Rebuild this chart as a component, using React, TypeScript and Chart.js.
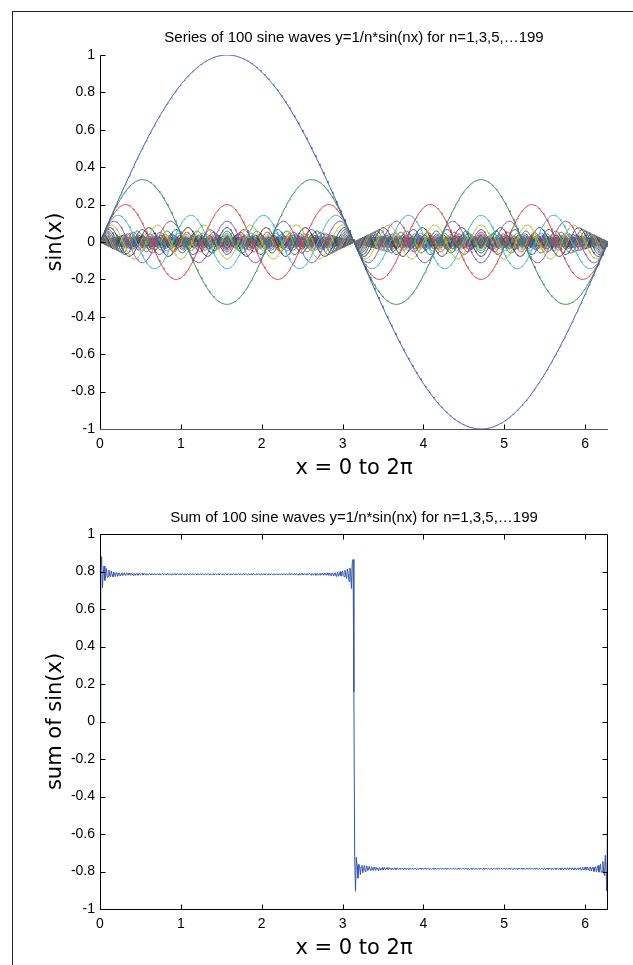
import React, { useEffect, useRef } from "react";
import { Chart, registerables } from "chart.js";

Chart.register(...registerables);

// Odd harmonics n = 1, 3, 5, ... 199 (as stated in the chart titles)
const HARMONICS = [
  1, 3, 5, 7, 9, 11, 13, 15, 17, 19, 21, 23, 25, 27, 29, 31, 33, 35, 37, 39,
  41, 43, 45, 47, 49, 51, 53, 55, 57, 59, 61, 63, 65, 67, 69, 71, 73, 75, 77, 79,
  81, 83, 85, 87, 89, 91, 93, 95, 97, 99, 101, 103, 105, 107, 109, 111, 113, 115, 117, 119,
  121, 123, 125, 127, 129, 131, 133, 135, 137, 139, 141, 143, 145, 147, 149, 151, 153, 155, 157, 159,
  161, 163, 165, 167, 169, 171, 173, 175, 177, 179, 181, 183, 185, 187, 189, 191, 193, 195, 197, 199,
];
// x sampling of the plotted curves: 0 to 2π in steps of 0.01
const X_STEP = 0.01;
const X_MAX = 2 * Math.PI;
const X_TICKS = [0, 1, 2, 3, 4, 5, 6];
const Y_TICKS = [-1, -0.8, -0.6, -0.4, -0.2, 0, 0.2, 0.4, 0.6, 0.8, 1];
const SERIES_COLORS = ["#3355b0", "#2e8b4e", "#e03a3a", "#2fb6c6", "#9150b4", "#baba30", "#404040"];
const SUM_COLOR = "#3355b0";
const TOP_TITLE = "Series of 100 sine waves y=1/n*sin(nx) for n=1,3,5,…199";
const BOTTOM_TITLE = "Sum of 100 sine waves y=1/n*sin(nx) for n=1,3,5,…199";
const X_LABEL = "x = 0 to 2π";
const TOP_Y_LABEL = "sin(x)";
const BOTTOM_Y_LABEL = "sum of sin(x)";

const SANS = "'Liberation Sans', Arial, Helvetica, sans-serif";
const LABEL_FONT = "'DejaVu Sans', 'Liberation Sans', sans-serif";

function buildSamples(): number[] {
  const xs: number[] = [];
  for (let i = 0; i * X_STEP <= X_MAX + 1e-9; i++) xs.push(Math.round(i * X_STEP * 100) / 100);
  return xs;
}

function axesPlugin(boxed: boolean, xAxisColor: string) {
  return {
    id: "matlabAxes",
    afterDatasetsDraw(chart: any) {
      const { ctx, chartArea: a, scales } = chart;
      const xs = scales.x;
      const ys = scales.y;
      const L = 5;
      const left = Math.round(a.left) + 0.5;
      const right = Math.round(a.right) - 0.5;
      const top = Math.round(a.top) + 0.5;
      const bottom = Math.round(a.bottom) + 0.5;
      ctx.save();
      ctx.lineWidth = 1;
      ctx.strokeStyle = "#000";
      ctx.beginPath();
      for (const t of xs.ticks) {
        const p = Math.round(xs.getPixelForValue(t.value)) + 0.5;
        ctx.moveTo(p, bottom);
        ctx.lineTo(p, bottom - L);
        if (boxed) {
          ctx.moveTo(p, top);
          ctx.lineTo(p, top + L);
        }
      }
      for (const t of ys.ticks) {
        const p = Math.round(ys.getPixelForValue(t.value)) + 0.5;
        ctx.moveTo(left, p);
        ctx.lineTo(left + L, p);
        if (boxed) {
          ctx.moveTo(right, p);
          ctx.lineTo(right - L, p);
        }
      }
      ctx.stroke();
      // y axis line (and box when boxed)
      ctx.beginPath();
      ctx.moveTo(left, top);
      ctx.lineTo(left, bottom);
      if (boxed) {
        ctx.moveTo(left, top);
        ctx.lineTo(right, top);
        ctx.lineTo(right, bottom);
      }
      ctx.stroke();
      // x axis line
      ctx.beginPath();
      ctx.strokeStyle = xAxisColor;
      ctx.moveTo(left - 0.5, bottom);
      ctx.lineTo(right + 0.5, bottom);
      ctx.stroke();
      ctx.restore();
    },
  };
}

function makeOptions(o: {
  title: string;
  titleTop: number;
  titleBottom: number;
  yLabel: string;
  xAxisHeight: number;
  xTitleBottom: number;
}) {
  return {
    responsive: false,
    animation: false,
    events: [],
    layout: { padding: { left: 0, right: 25, top: 0, bottom: 0 } },
    plugins: {
      legend: { display: false },
      tooltip: { enabled: false },
      title: {
        display: true,
        fullSize: false,
        text: o.title,
        color: "#000",
        font: { family: SANS, size: 15, weight: "normal" },
        padding: { top: o.titleTop, bottom: o.titleBottom },
      },
    },
    elements: {
      line: { borderWidth: 1, tension: 0, borderJoinStyle: "round" },
      point: { radius: 0 },
    },
    scales: {
      x: {
        type: "linear",
        min: 0,
        max: X_MAX,
        afterBuildTicks: (s: any) => {
          s.ticks = X_TICKS.map((v) => ({ value: v }));
        },
        afterFit: (s: any) => {
          s.height = o.xAxisHeight;
        },
        ticks: {
          color: "#000",
          font: { family: SANS, size: 14 },
          padding: 7,
          maxRotation: 0,
          autoSkip: false,
          callback: (v: any) => String(v),
        },
        grid: { display: false, drawTicks: false },
        border: { display: false },
        title: {
          display: true,
          text: X_LABEL,
          color: "#000",
          font: { family: LABEL_FONT, size: 21 },
          padding: { top: 0, bottom: o.xTitleBottom },
        },
      },
      y: {
        type: "linear",
        min: -1,
        max: 1,
        afterBuildTicks: (s: any) => {
          s.ticks = Y_TICKS.map((v) => ({ value: v }));
        },
        afterFit: (s: any) => {
          s.width = 100;
        },
        ticks: {
          color: "#000",
          font: { family: SANS, size: 14 },
          padding: 5,
          autoSkip: false,
          callback: (v: any) => String(Math.round(Number(v) * 10) / 10),
        },
        grid: { display: false, drawTicks: false },
        border: { display: false },
        title: {
          display: true,
          text: o.yLabel,
          color: "#000",
          font: { family: LABEL_FONT, size: 21 },
          padding: { top: 43, bottom: 0 },
        },
      },
    },
  };
}

export default function App() {
  const topRef = useRef<HTMLCanvasElement | null>(null);
  const bottomRef = useRef<HTMLCanvasElement | null>(null);

  useEffect(() => {
    const xs = buildSamples();

    const waveSets = HARMONICS.map((n, i) => ({
      label: `n=${n}`,
      data: xs.map((x) => ({ x, y: Math.sin(n * x) / n })),
      borderColor: SERIES_COLORS[i % SERIES_COLORS.length],
      borderWidth: 1,
      pointRadius: 0,
      fill: false,
    }));

    const sumData = xs.map((x) => ({
      x,
      y: HARMONICS.reduce((acc, n) => acc + Math.sin(n * x) / n, 0),
    }));

    const top = new Chart(topRef.current as HTMLCanvasElement, {
      type: "line",
      data: { datasets: waveSets as any },
      options: makeOptions({
        title: TOP_TITLE,
        titleTop: 29,
        titleBottom: 8,
        yLabel: TOP_Y_LABEL,
        xAxisHeight: 61,
        xTitleBottom: 9,
      }) as any,
      plugins: [axesPlugin(false, "#555")],
    });

    const bottom = new Chart(bottomRef.current as HTMLCanvasElement, {
      type: "line",
      data: {
        datasets: [
          {
            label: "sum",
            data: sumData,
            borderColor: SUM_COLOR,
            borderWidth: 1,
            pointRadius: 0,
            fill: false,
          } as any,
        ],
      },
      options: makeOptions({
        title: BOTTOM_TITLE,
        titleTop: 19,
        titleBottom: 7,
        yLabel: BOTTOM_Y_LABEL,
        xAxisHeight: 56,
        xTitleBottom: 4,
      }) as any,
      plugins: [axesPlugin(true, "#000")],
    });

    return () => {
      top.destroy();
      bottom.destroy();
    };
  }, []);

  return (
    <div
      style={{
        position: "fixed",
        left: 0,
        top: 0,
        width: 633,
        height: 965,
        background: "#fff",
        overflow: "hidden",
      }}
    >
      <canvas
        ref={topRef}
        width={633}
        height={490}
        style={{ position: "absolute", left: 0, top: 0, width: 633, height: 490 }}
      />
      <canvas
        ref={bottomRef}
        width={633}
        height={475}
        style={{ position: "absolute", left: 0, top: 490, width: 633, height: 475 }}
      />
      <div
        style={{
          position: "absolute",
          left: 12,
          top: 11,
          width: 700,
          height: 1000,
          borderLeft: "1px solid #222",
          borderTop: "1px solid #222",
          pointerEvents: "none",
        }}
      />
    </div>
  );
}
